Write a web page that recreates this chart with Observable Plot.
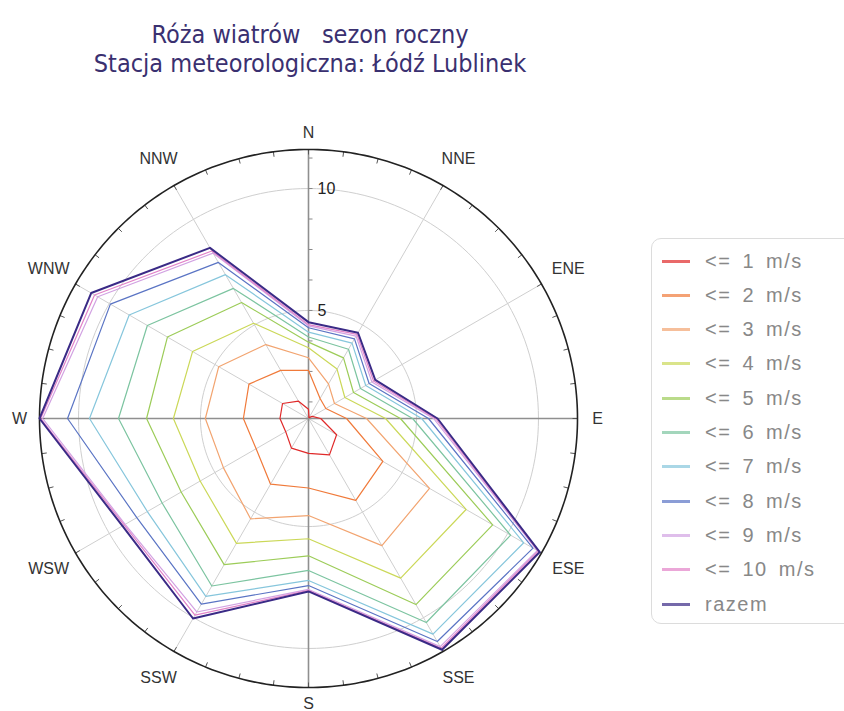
<!DOCTYPE html>
<html>
<head>
<meta charset="utf-8">
<script src="https://cdn.jsdelivr.net/npm/d3@7"></script>
<script src="https://cdn.jsdelivr.net/npm/@observablehq/plot@0.6"></script>
<style>
  body { margin:0; background:#fff; width:844px; height:711px; position:relative; overflow:hidden; }
  #title { position:absolute; left:0; top:20px; width:620px; text-align:center; font-family:"DejaVu Sans Condensed","DejaVu Sans",sans-serif; font-size:25px; line-height:29px; color:#3a3070; white-space:pre; }
  #chart { position:absolute; left:0; top:100px; }
  #legend { position:absolute; left:651px; top:238px; width:210px; height:386px; border:1px solid #dcdcdc; border-radius:10px; box-sizing:border-box; }
  .row { position:absolute; left:0; height:34px; display:flex; align-items:center; font-family:"Liberation Sans",Arial,sans-serif; font-size:20px; letter-spacing:1.5px; word-spacing:4px; color:#888; white-space:pre; }
  .sw { display:inline-block; width:28px; height:3px; margin-left:10px; margin-right:15px; }
</style>
</head>
<body>
<div id="title">Róża wiatrów   sezon roczny
Stacja meteorologiczna: Łódź Lublinek</div>
<div id="chart"></div>
<div id="legend"></div>
<script>
// ---- data ----
const directions = ["N","NNE","ENE","E","ESE","SSE","S","SSW","WSW","W","WNW","NNW"];
const seriesNames = ["<= 1 m/s","<= 2 m/s","<= 3 m/s","<= 4 m/s","<= 5 m/s","<= 6 m/s","<= 7 m/s","<= 8 m/s","<= 9 m/s","<= 10 m/s","razem"];
const le1  = [0.95, 0.61, 0.74, 1.07, 1.90, 2.29, 2.00, 1.97, 1.65, 1.74, 1.80, 1.39];
const le2  = [2.54, 1.52, 1.39, 2.13, 4.09, 4.45, 3.42, 3.68, 3.05, 3.24, 3.39, 2.85];
const le3  = [3.06, 2.21, 1.80, 2.95, 6.30, 6.59, 4.55, 5.32, 4.60, 4.80, 4.82, 4.07];
const le4  = [3.47, 2.91, 2.29, 3.73, 8.03, 8.13, 5.50, 6.48, 5.70, 6.11, 6.06, 5.08];
const le5  = [3.70, 3.44, 2.70, 4.34, 9.29, 9.38, 6.20, 7.49, 6.60, 7.21, 7.25, 6.06];
const le6  = [3.91, 3.85, 3.03, 4.84, 10.14, 10.23, 6.80, 8.50, 7.50, 8.36, 8.20, 6.73];
const le7  = [4.11, 4.14, 3.28, 5.21, 10.76, 10.78, 7.21, 8.99, 8.20, 9.55, 9.06, 7.38];
const le8  = [4.29, 4.34, 3.44, 5.49, 11.20, 11.13, 7.42, 9.36, 8.70, 10.45, 9.95, 7.96];
const le9  = [4.37, 4.47, 3.57, 5.70, 11.40, 11.37, 7.58, 9.73, 9.25, 11.47, 10.55, 8.40];
const le10 = [4.42, 4.55, 3.65, 5.78, 11.45, 11.45, 7.62, 9.88, 9.30, 11.55, 10.70, 8.50];
const razem= [4.52, 4.63, 3.73, 5.86, 11.52, 11.52, 7.66, 10.04, 9.38, 11.60, 10.86, 8.65];
const seriesValues = [le1, le2, le3, le4, le5, le6, le7, le8, le9, le10, razem];
const lineColors = ["#e02a2a","#f07a3a","#f2a470","#cbd858","#9ccc58","#7cc4a0","#86c6dc","#5a74c4","#d2a2e2","#e282c8","#3a2a86"];
const gridValues = [5, 10];
const tickValues = [1.25, 2.5, 3.75, 5, 6.25, 7.5, 8.75, 10, 11.25];
const tickLabels = ["5", "10"];

// ---- radial axis ----
const R0 = 0.57, R1 = 11.6;           // radial domain: centre .. outer circle
const U = R1 - R0;
const W = 640, H = 611, mL = 39, mT = 49, size = 538;
const pxPerUnit = (size / 2) / U;
const rad = a => a * Math.PI / 180;
const X = (v, a) => (v - R0) * Math.sin(rad(a));
const Y = (v, a) => (v - R0) * Math.cos(rad(a));
const angleOf = i => i * 360 / directions.length;

const rows = [];
seriesNames.forEach((s, k) => seriesValues[k].forEach((v, i) => rows.push({series: s, angle: angleOf(i), value: v})));

const circlePts = [];
gridValues.forEach(g => d3.range(0, 361, 2).forEach(a => circlePts.push({g, a})));
const outerPts = d3.range(0, 361, 1).map(a => ({a}));
const spokes = directions.map((d, i) => ({a: angleOf(i), main: i % 3 === 0}));
const outerTicks = d3.range(0, 360, 7.5).map(a => ({a}));
const dirLabels = directions.map((d, i) => ({label: d, a: angleOf(i)}));

const chart = Plot.plot({
  width: W, height: H,
  marginLeft: mL, marginRight: W - mL - size, marginTop: mT, marginBottom: H - mT - size,
  x: {domain: [-U, U], axis: null},
  y: {domain: [-U, U], axis: null},
  color: {domain: seriesNames, range: lineColors},
  style: {fontFamily: "'Liberation Sans', Arial, sans-serif", background: "transparent"},
  marks: [
    Plot.line(circlePts, {x: d => X(d.g, d.a), y: d => Y(d.g, d.a), z: "g", stroke: "#cfcfcf", strokeWidth: 1}),
    Plot.link(spokes.filter(d => !d.main), {x1: 0, y1: 0, x2: d => X(R1, d.a), y2: d => Y(R1, d.a), stroke: "#cfcfcf", strokeWidth: 1}),
    Plot.link(spokes.filter(d => d.main), {x1: 0, y1: 0, x2: d => X(R1, d.a), y2: d => Y(R1, d.a), stroke: "#8f8f8f", strokeWidth: 1.6}),
    Plot.link(outerTicks, {x1: d => X(R1, d.a), y1: d => Y(R1, d.a), x2: d => X(R1 - 5 / pxPerUnit, d.a), y2: d => Y(R1 - 5 / pxPerUnit, d.a), stroke: "#555", strokeWidth: 1}),
    Plot.link(tickValues, {x1: 0, y1: d => d - R0, x2: 4 / pxPerUnit, y2: d => d - R0, stroke: "#888", strokeWidth: 1}),
    Plot.line(outerPts, {x: d => X(R1, d.a), y: d => Y(R1, d.a), stroke: "#222", strokeWidth: 1.6}),
    Plot.line(rows, {x: d => X(d.value, d.angle), y: d => Y(d.value, d.angle), z: "series", stroke: "series",
      strokeWidth: d => d.series === "razem" ? 2 : 1.2, curve: "linear-closed"}),
    Plot.text(tickLabels, {x: 9 / pxPerUnit, y: d => +d - R0, text: d => d, textAnchor: "start", fontSize: 16, fill: "#222"}),
    Plot.text(dirLabels, {
      x: d => X(R1 + (d.label.length === 1 ? 20 : 31) / pxPerUnit, d.a),
      y: d => Y(R1 + (d.label.length === 1 ? 16.5 : 31) / pxPerUnit, d.a),
      text: "label", textAnchor: "middle", fontSize: 16, fill: "#333"})
  ]
});
document.getElementById("chart").appendChild(chart);

// ---- legend ----
const legend = document.getElementById("legend");
seriesNames.forEach((s, k) => {
  const row = document.createElement("div");
  row.className = "row";
  row.style.top = (5 + k * 34.3) + "px";
  const sw = document.createElement("span");
  sw.className = "sw";
  sw.style.background = lineColors[k];
  sw.style.opacity = 0.7;
  row.appendChild(sw);
  row.appendChild(document.createTextNode(s));
  legend.appendChild(row);
});
</script>
</body>
</html>
